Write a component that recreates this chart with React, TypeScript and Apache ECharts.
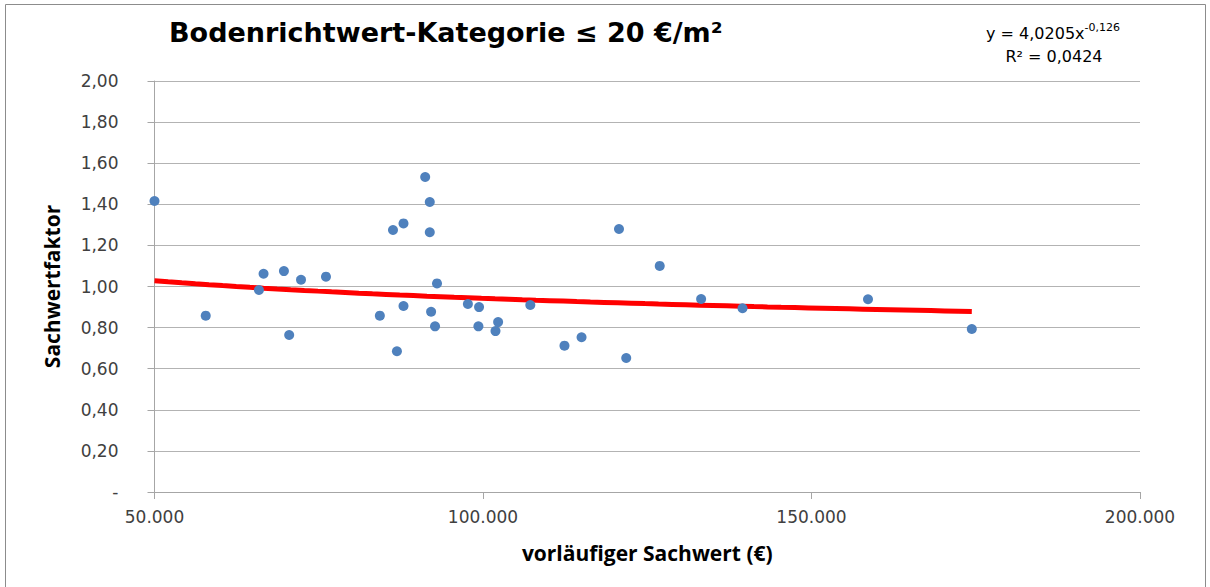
import React, { useEffect, useRef } from "react";
import * as echarts from "echarts";

const title = "Bodenrichtwert-Kategorie ≤ 20 €/m²";
const xAxisName = "vorläufiger Sachwert (€)";
const yAxisName = "Sachwertfaktor";

// scatter observations: [vorläufiger Sachwert (€), Sachwertfaktor]
const sachwert = [
  50000, 57800, 65900, 66600, 69700, 70500, 72300, 76100, 84300, 86300, 86900,
  87900, 87900, 91200, 91900, 91900, 92100, 92700, 93000, 97700, 99400, 99300,
  101900, 102300, 107200, 112400, 115000, 120700, 121800, 126900, 133200,
  139500, 158600, 174400,
];
const faktor = [
  1.416, 0.858, 0.983, 1.062, 1.075, 0.764, 1.033, 1.048, 0.858, 1.275, 0.685,
  1.307, 0.905, 1.533, 1.411, 1.264, 0.877, 0.806, 1.015, 0.915, 0.9, 0.806,
  0.783, 0.827, 0.91, 0.712, 0.753, 1.28, 0.652, 1.1, 0.939, 0.894, 0.938,
  0.793,
];

// power trendline as printed on the chart: y = a * x^b
const trendA = 4.0205;
const trendB = -0.126;
const trendR2 = 0.0424;

const xTicks = [50000, 100000, 150000, 200000];
const yTicks = [0, 0.2, 0.4, 0.6, 0.8, 1.0, 1.2, 1.4, 1.6, 1.8, 2.0];

const deNum = (v: number, d: number) =>
  v.toLocaleString("de-DE", { minimumFractionDigits: d, maximumFractionDigits: d });

export default function App() {
  const ref = useRef<HTMLDivElement>(null);
  useEffect(() => {
    if (!ref.current) return;
    const chart = echarts.init(ref.current, undefined, { renderer: "svg" });
    const points = sachwert.map((x, i) => [x, faktor[i]]);
    const xMin = Math.min(...sachwert);
    const xMax = Math.max(...sachwert);
    const trend: number[][] = [];
    const steps = 60;
    for (let i = 0; i <= steps; i++) {
      const x = xMin + ((xMax - xMin) * i) / steps;
      trend.push([x, trendA * Math.pow(x, trendB)]);
    }
    const labelFont = "'Open Sans', Lato, sans-serif";
    const tickFont = "'DejaVu Sans', 'Open Sans', sans-serif";
    chart.setOption({
      animation: false,
      backgroundColor: "#ffffff",
      grid: { left: 154.5, right: 70, top: 81, bottom: 95, containLabel: false },
      graphic: [
        {
          type: "rect",
          shape: { x: 5.5, y: 4.5, width: 1200, height: 600 },
          style: { fill: "none", stroke: "#8c8c8c", lineWidth: 1 },
          silent: true,
        },
        {
          type: "text",
          left: 169,
          top: 19,
          style: {
            text: title,
            font: "bold 27px 'DejaVu Sans', Verdana, sans-serif",
            fill: "#000000",
          },
        },
        {
          type: "text",
          x: 1053,
          y: 22,
          style: {
            text: "{b|y = " + deNum(trendA, 4) + "x}{s|" + deNum(trendB, 3) + "}",
            align: "center",
            rich: {
              b: { fontFamily: tickFont, fontSize: 16, fill: "#000", color: "#000", lineHeight: 22 },
              s: { fontFamily: tickFont, fontSize: 11, fill: "#000", color: "#000", verticalAlign: "top", lineHeight: 22, padding: [0, 0, 8, 0] },
            },
          },
        },
        {
          type: "text",
          x: 1054,
          y: 48,
          style: {
            text: "R² = " + deNum(trendR2, 4),
            align: "center",
            font: "16px " + tickFont,
            fill: "#000000",
          },
        },
      ],
      xAxis: {
        type: "value",
        min: xTicks[0],
        max: xTicks[xTicks.length - 1],
        interval: 50000,
        name: xAxisName,
        nameLocation: "middle",
        nameGap: 50,
        nameTextStyle: { fontFamily: labelFont, fontWeight: "bold", fontSize: 21, color: "#000" },
        axisLine: { show: true, onZero: false, lineStyle: { color: "#a6a6a6", width: 1 } },
        axisTick: { show: true, length: 7, lineStyle: { color: "#a6a6a6" } },
        splitLine: { show: false },
        axisLabel: {
          fontFamily: tickFont,
          fontSize: 17,
          color: "#404040",
          margin: 16,
          formatter: (v: number) => deNum(v, 0),
        },
      },
      yAxis: {
        type: "value",
        min: yTicks[0],
        max: yTicks[yTicks.length - 1],
        interval: 0.2,
        name: yAxisName,
        nameLocation: "middle",
        nameGap: 92,
        nameTextStyle: { fontFamily: labelFont, fontWeight: "bold", fontSize: 21, color: "#000" },
        axisLine: { show: true, lineStyle: { color: "#a6a6a6", width: 1 } },
        axisTick: { show: true, length: 7, lineStyle: { color: "#a6a6a6" } },
        splitLine: { show: true, lineStyle: { color: "#b3b3b3", width: 1 } },
        axisLabel: {
          fontFamily: tickFont,
          fontSize: 17,
          color: "#404040",
          margin: 36,
          formatter: (v: number) => (Math.abs(v) < 1e-9 ? "-" : deNum(v, 2)),
        },
      },
      series: [
        {
          type: "line",
          data: trend,
          showSymbol: false,
          symbol: "none",
          lineStyle: { color: "#ff0000", width: 5 },
          z: 2,
        },
        {
          type: "scatter",
          data: points,
          symbolSize: 10,
          itemStyle: { color: "#4f81bd", opacity: 1 },
          z: 3,
        },
      ],
    });
    return () => chart.dispose();
  }, []);
  return (
    <div style={{ position: "absolute", left: 0, top: 0, width: 1210, height: 587 }}>
      <div ref={ref} style={{ width: 1210, height: 587 }} />
    </div>
  );
}
